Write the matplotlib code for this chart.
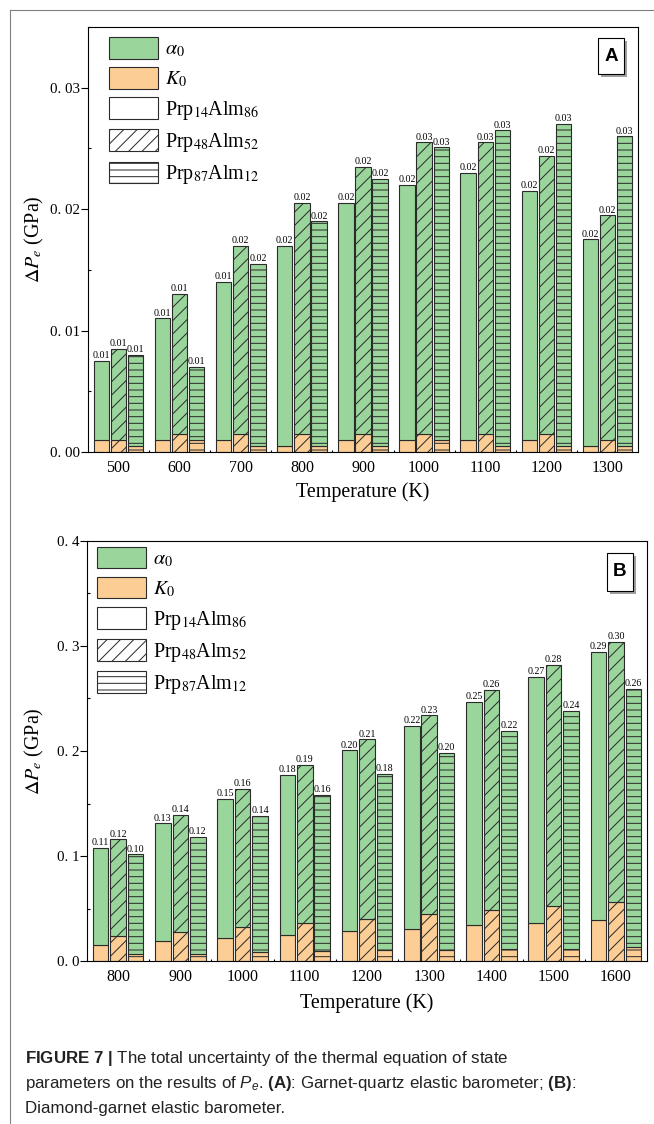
import numpy as np
import matplotlib
matplotlib.use("Agg")
import matplotlib.pyplot as plt
from matplotlib.patches import Patch, Rectangle
from matplotlib.lines import Line2D
from matplotlib.ticker import MultipleLocator, FixedLocator

# (A) garnet-quartz barometer: total uncertainty and the K0 share, GPa
temps_a = [500, 600, 700, 800, 900, 1000, 1100, 1200, 1300]
total_a_14 = [0.0075, 0.011, 0.014, 0.017, 0.0205, 0.022, 0.023, 0.0215, 0.0175]
total_a_48 = [0.0085, 0.013, 0.017, 0.0205, 0.0235, 0.0255, 0.0255, 0.0244, 0.0195]
total_a_87 = [0.008, 0.007, 0.0155, 0.019, 0.0225, 0.0251, 0.0265, 0.027, 0.026]
k0_a_14 = [0.001, 0.001, 0.001, 0.0005, 0.001, 0.001, 0.001, 0.001, 0.0005]
k0_a_48 = [0.001, 0.0015, 0.0015, 0.0015, 0.0015, 0.0015, 0.0015, 0.0015, 0.001]
k0_a_87 = [0.0005, 0.001, 0.0005, 0.0005, 0.0005, 0.001, 0.0005, 0.0005, 0.0005]

# (B) diamond-garnet barometer
temps_b = [800, 900, 1000, 1100, 1200, 1300, 1400, 1500, 1600]
total_b_14 = [0.108, 0.131, 0.1546, 0.177, 0.2006, 0.2237, 0.247, 0.2708, 0.2942]
total_b_48 = [0.116, 0.139, 0.164, 0.187, 0.211, 0.234, 0.258, 0.282, 0.304]
total_b_87 = [0.1016, 0.1184, 0.1384, 0.158, 0.178, 0.1984, 0.219, 0.2385, 0.259]
k0_b_14 = [0.0156, 0.019, 0.0222, 0.0244, 0.0283, 0.0308, 0.034, 0.0365, 0.039]
k0_b_48 = [0.0235, 0.0273, 0.032, 0.036, 0.0397, 0.0444, 0.0483, 0.0524, 0.0559]
k0_b_87 = [0.0063, 0.007, 0.0083, 0.0095, 0.0102, 0.0105, 0.0117, 0.0117, 0.0137]

garnets = [r"Prp$_{14}$Alm$_{86}$", r"Prp$_{48}$Alm$_{52}$", r"Prp$_{87}$Alm$_{12}$"]
hatches = ["", "//", "--"]

GREEN = "#9AD59B"
ORANGE = "#FCCE95"
EDGE = "#2b2b2b"

plt.rcParams["font.family"] = ["Liberation Serif", "DejaVu Serif"]
plt.rcParams["mathtext.fontset"] = "stix"
plt.rcParams["mathtext.rm"] = "Liberation Sans"
plt.rcParams["mathtext.it"] = "Liberation Sans:italic"
plt.rcParams["mathtext.bf"] = "Liberation Sans:bold"
plt.rcParams["hatch.linewidth"] = 0.9
plt.rcParams["hatch.color"] = EDGE

W, H = 654, 1124
DPI = 80
fig = plt.figure(figsize=(W / DPI, H / DPI), dpi=DPI)


def draw_panel(ax, temps, totals, k0s, yticks, ylabels, ylim, minor_step, xlim):
    x = np.array(temps, dtype=float)
    width = 25
    offsets = [-28, 0, 28]
    for off, tot, k0, hatch in zip(offsets, totals, k0s, hatches):
        tot = np.array(tot)
        k0 = np.array(k0)
        ax.bar(x + off, k0, width, color=ORANGE, edgecolor=EDGE,
               hatch=hatch, linewidth=1.0, zorder=2)
        ax.bar(x + off, tot - k0, width, bottom=k0, color=GREEN,
               edgecolor=EDGE, hatch=hatch, linewidth=1.0, zorder=2)
        for xi, t in zip(x + off, tot):
            ax.annotate(f"{t:.2f}", (xi, t), xytext=(0, 0.6),
                        textcoords="offset points", ha="center",
                        va="bottom", fontsize=9, zorder=3)

    ax.set_xlim(*xlim)
    ax.set_ylim(*ylim)
    ax.set_xticks(temps)
    ax.set_xticklabels([str(t) for t in temps])
    ax.xaxis.set_minor_locator(FixedLocator([t + 50 for t in temps[:-1]]))
    ax.set_yticks(yticks)
    ax.set_yticklabels(ylabels)
    ax.yaxis.set_minor_locator(MultipleLocator(minor_step))

    ax.tick_params(axis="x", which="major", direction="in", length=4,
                   width=1, labelsize=14.4, pad=7)
    ax.tick_params(axis="x", which="minor", direction="in", length=2, width=1)
    ax.tick_params(axis="y", which="major", direction="out", length=6,
                   width=1, labelsize=13.5, pad=1)
    ax.tick_params(axis="y", which="minor", direction="in", length=3, width=1)
    for sp in ax.spines.values():
        sp.set_linewidth(1.0)

    ax.set_xlabel("Temperature (K)", fontsize=18)
    ax.set_ylabel(r"$\Delta P_e$ (GPa)", fontsize=18)


def add_legend(ax, x0, y0):
    handles = [
        Patch(facecolor=GREEN, edgecolor=EDGE, linewidth=1),
        Patch(facecolor=ORANGE, edgecolor=EDGE, linewidth=1),
    ]
    for h in hatches:
        handles.append(Patch(facecolor="white", edgecolor=EDGE, hatch=h,
                             linewidth=1))
    labels = [r"$\alpha_0$", r"$K_0$"] + garnets
    ax.legend(handles, labels, loc="upper left", bbox_to_anchor=(x0, y0),
              frameon=False, fontsize=18, handlelength=2.45,
              handleheight=1.28, labelspacing=0.38, handletextpad=0.35,
              borderaxespad=0, borderpad=0)


def panel_tag(ax, letter, x0, y0, w, h, dx, dy):
    ax.add_patch(Rectangle((x0 + dx, y0 - dy), w, h, transform=ax.transAxes,
                           facecolor="#a0a0a0", edgecolor="none", zorder=5))
    ax.add_patch(Rectangle((x0, y0), w, h, transform=ax.transAxes,
                           facecolor="white", edgecolor="black",
                           linewidth=1, zorder=6))
    ax.text(x0 + w / 2, y0 + h / 2, letter, transform=ax.transAxes,
            ha="center", va="center", family="Liberation Sans",
            weight="bold", fontsize=17, zorder=7)


# panel A
ax_a = fig.add_axes([88 / W, 1 - 452 / H, 550 / W, 425 / H])
draw_panel(ax_a, temps_a, [total_a_14, total_a_48, total_a_87],
           [k0_a_14, k0_a_48, k0_a_87],
           [0, 0.01, 0.02, 0.03], ["0. 00", "0. 01", "0. 02", "0. 03"],
           (0, 0.035), 0.005, (450, 1350))
ax_a.xaxis.set_label_coords(0.5, -0.072)
ax_a.yaxis.set_label_coords(-0.076, 0.5)
add_legend(ax_a, 0.038, 0.976)
panel_tag(ax_a, "A", 0.927, 0.889, 0.0473, 0.0847, 0.0055, 0.007)

# panel B
ax_b = fig.add_axes([87 / W, 1 - 961 / H, 560 / W, 420 / H])
draw_panel(ax_b, temps_b, [total_b_14, total_b_48, total_b_87],
           [k0_b_14, k0_b_48, k0_b_87],
           [0, 0.1, 0.2, 0.3, 0.4], ["0. 0", "0. 1", "0. 2", "0. 3", "0. 4"],
           (0, 0.4), 0.05, (750, 1650))
ax_b.xaxis.set_label_coords(0.5, -0.076)
ax_b.yaxis.set_label_coords(-0.073, 0.5)
add_legend(ax_b, 0.018, 0.986)
panel_tag(ax_b, "B", 0.9286, 0.881, 0.0464, 0.0905, 0.0054, 0.0071)

# frame lines on the top and left of the figure
fig.add_artist(Line2D([10 / W, 10 / W], [0, 1 - 10 / H],
                      transform=fig.transFigure, color="#808080", lw=1))
fig.add_artist(Line2D([10 / W, 1], [1 - 10 / H, 1 - 10 / H],
                      transform=fig.transFigure, color="#808080", lw=1))

# caption
cap_lines = [
    r"$\mathbf{FIGURE\ 7\ |}$ The total uncertainty of the thermal equation of state",
    r"parameters on the results of $P_e$. $\mathbf{(A)}$: Garnet-quartz elastic barometer; $\mathbf{(B)}$:",
    "Diamond-garnet elastic barometer.",
]
for i, line in enumerate(cap_lines):
    fig.text(25 / W, 1 - (1063 + 25 * i) / H, line, ha="left", va="baseline",
             family="Liberation Sans", fontsize=15.2, math_fontfamily="custom",
             color="#222222")

fig.savefig("out.png", dpi=DPI)
